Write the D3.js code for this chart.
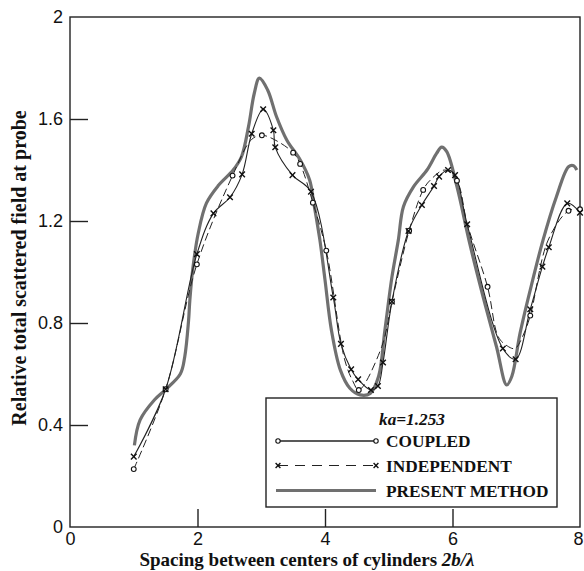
<!DOCTYPE html>
<html><head><meta charset="utf-8">
<script src="https://cdn.jsdelivr.net/npm/d3@7"></script>
<style>body{margin:0;background:#fff}svg{display:block}</style>
</head><body>
<script>
// ---- data ----
const xTicks = [0, 2, 4, 6, 8];
const yTicks = [0, 0.4, 0.8, 1.2, 1.6, 2];
const xLabel = "Spacing between centers of cylinders ";
const xLabelItalic = "2b/λ";
const yLabel = "Relative total scattered field at probe";
const legendTitle = "ka=1.253";
const seriesNames = ["COUPLED", "INDEPENDENT", "PRESENT METHOD"];

// COUPLED (circle markers); mark = 1 where a circle is drawn
const coupledX = [1.0, 1.5, 1.99, 2.55, 2.85, 3.01, 3.2, 3.5, 3.61, 3.81, 4.02, 4.31, 4.44, 4.53, 4.89, 5.05, 5.32, 5.54, 5.65, 5.88, 6.07, 6.23, 6.55, 6.72, 6.86, 6.98, 7.11, 7.22, 7.5, 7.82, 8.0];
const coupledY = [0.227, 0.54, 1.03, 1.378, 1.52, 1.536, 1.52, 1.468, 1.424, 1.272, 1.084, 0.655, 0.57, 0.537, 0.707, 0.884, 1.162, 1.322, 1.36, 1.40, 1.358, 1.19, 0.942, 0.745, 0.71, 0.70, 0.753, 0.829, 1.125, 1.24, 1.246];
const coupledMark = [1, 1, 1, 1, 0, 1, 0, 1, 1, 1, 1, 0, 0, 1, 0, 1, 1, 1, 0, 0, 1, 0, 1, 0, 0, 0, 0, 1, 0, 1, 1];

// INDEPENDENT (x markers)
const indepX = [1.0, 1.5, 1.99, 2.25, 2.51, 2.70, 2.85, 3.03, 3.19, 3.22, 3.49, 3.78, 4.13, 4.25, 4.41, 4.52, 4.72, 4.83, 4.91, 5.05, 5.31, 5.52, 5.71, 5.79, 5.93, 6.04, 6.23, 6.79, 6.99, 7.22, 7.41, 7.51, 7.80, 8.0];
const indepY = [0.276, 0.54, 1.07, 1.23, 1.293, 1.383, 1.542, 1.638, 1.556, 1.489, 1.38, 1.315, 0.90, 0.718, 0.618, 0.579, 0.537, 0.553, 0.645, 0.884, 1.161, 1.263, 1.337, 1.374, 1.40, 1.38, 1.187, 0.70, 0.658, 0.854, 1.021, 1.097, 1.269, 1.233];

// PRESENT METHOD (thick grey line)
const presentX = [1.01, 1.10, 1.33, 1.49, 1.73, 1.80, 1.86, 1.88, 1.93, 2.01, 2.14, 2.33, 2.56, 2.69, 2.80, 2.89, 2.97, 3.10, 3.24, 3.40, 3.61, 3.76, 3.82, 3.92, 4.00, 4.10, 4.24, 4.39, 4.55, 4.71, 4.84, 4.94, 5.05, 5.15, 5.23, 5.39, 5.60, 5.75, 5.83, 5.91, 6.07, 6.27, 6.48, 6.69, 6.85, 6.93, 7.06, 7.22, 7.42, 7.63, 7.82, 7.90, 7.95];
const presentY = [0.32, 0.42, 0.50, 0.537, 0.60, 0.668, 0.81, 0.89, 1.02, 1.15, 1.27, 1.34, 1.40, 1.452, 1.57, 1.70, 1.76, 1.714, 1.609, 1.518, 1.44, 1.36, 1.276, 1.125, 0.969, 0.773, 0.616, 0.544, 0.518, 0.524, 0.59, 0.773, 0.98, 1.125, 1.256, 1.335, 1.40, 1.465, 1.49, 1.472, 1.335, 1.112, 0.903, 0.707, 0.557, 0.59, 0.76, 0.93, 1.125, 1.295, 1.413, 1.417, 1.40];

// ---- chart ----
const W = 584, H = 571;
const m = {left: 70, right: 4, top: 17, bottom: 44};
const svg = d3.select("body").append("svg").attr("width", W).attr("height", H);
const x = d3.scaleLinear().domain([0, 8]).range([m.left, W - m.right]);
const y = d3.scaleLinear().domain([0, 2]).range([H - m.bottom, m.top]);

const clipId = "plotclip";
svg.append("clipPath").attr("id", clipId).append("rect")
  .attr("x", x(0)).attr("y", y(2)).attr("width", x(8) - x(0) + 6).attr("height", y(0) - y(2));

// frame
svg.append("rect").attr("x", x(0)).attr("y", y(2)).attr("width", x(8) - x(0)).attr("height", y(0) - y(2))
  .attr("fill", "none").attr("stroke", "#222").attr("stroke-width", 1.4);

// axes (ticks pointing inward)
const yAxis = d3.axisLeft(y).tickValues(yTicks).tickSize(0).tickPadding(7).tickFormat(d3.format("~g"));
const gy = svg.append("g").attr("transform", `translate(${x(0)},0)`).call(yAxis);
gy.select(".domain").remove();
gy.selectAll("text").attr("font-family", "Liberation Sans, Arial, sans-serif").attr("font-size", 18).attr("fill", "#111");
gy.selectAll(".tick").filter(d => d > 0 && d < 2).append("line")
  .attr("x1", 0).attr("x2", 18).attr("stroke", "#222").attr("stroke-width", 1.4);

const xAxis = d3.axisBottom(x).tickValues(xTicks).tickSize(0).tickPadding(5).tickFormat(d3.format("~g"));
const gx = svg.append("g").attr("transform", `translate(0,${y(0)})`).call(xAxis);
gx.select(".domain").remove();
gx.selectAll("text").attr("font-family", "Liberation Sans, Arial, sans-serif").attr("font-size", 18).attr("fill", "#111");
gx.selectAll(".tick").filter(d => d === 8).select("text").attr("text-anchor", "end").attr("x", W - 1 - x(8));
gx.selectAll(".tick").filter(d => d > 0 && d < 8).append("line")
  .attr("y1", 0).attr("y2", -18).attr("stroke", "#222").attr("stroke-width", 1.4);

// axis titles
svg.append("text").attr("transform", `translate(26,268) rotate(-90)`)
  .attr("text-anchor", "middle").attr("font-family", "Liberation Serif, Times New Roman, serif")
  .attr("font-weight", "bold").attr("font-size", 20).attr("fill", "#111").text(yLabel);
const xt = svg.append("text").attr("x", 307).attr("y", 566).attr("text-anchor", "middle")
  .attr("font-family", "Liberation Serif, Times New Roman, serif").attr("font-weight", "bold")
  .attr("font-size", 19).attr("fill", "#111");
xt.append("tspan").text(xLabel);
xt.append("tspan").attr("font-style", "italic").text(xLabelItalic);

// lines
const line = d3.line().x(d => x(d[0])).y(d => y(d[1])).curve(d3.curveCatmullRom.alpha(0.5));
const plot = svg.append("g").attr("clip-path", `url(#${clipId})`);
const presentPts = presentX.map((v, i) => [v, presentY[i]]);
const coupledPts = coupledX.map((v, i) => [v, coupledY[i]]);
const indepPts = indepX.map((v, i) => [v, indepY[i]]);

plot.append("path").datum(presentPts).attr("d", line).attr("fill", "none")
  .attr("stroke", "#707070").attr("stroke-width", 3.2).attr("stroke-linejoin", "round");
plot.append("path").datum(coupledPts).attr("d", line).attr("fill", "none")
  .attr("stroke", "#222").attr("stroke-width", 1).attr("stroke-dasharray", "8,4");
plot.append("path").datum(indepPts).attr("d", line).attr("fill", "none")
  .attr("stroke", "#222").attr("stroke-width", 1.1);

// markers
function xMark(g, cx, cy, s) {
  g.append("path").attr("d", `M${cx - s},${cy - s}L${cx + s},${cy + s}M${cx - s},${cy + s}L${cx + s},${cy - s}`)
    .attr("stroke", "#111").attr("stroke-width", 1.4).attr("fill", "none");
}
function oMark(g, cx, cy, r) {
  g.append("circle").attr("cx", cx).attr("cy", cy).attr("r", r)
    .attr("fill", "#fff").attr("stroke", "#111").attr("stroke-width", 1.1);
}
coupledPts.forEach((p, i) => { if (coupledMark[i]) oMark(plot, x(p[0]), y(p[1]), 2.4); });
indepPts.forEach(p => xMark(plot, x(p[0]), y(p[1]), 2.8));

// legend
const lg = svg.append("g");
lg.append("rect").attr("x", 266).attr("y", 398).attr("width", 291).attr("height", 109)
  .attr("fill", "#fff").attr("stroke", "#222").attr("stroke-width", 1.4);
lg.append("text").attr("x", 412).attr("y", 425).attr("text-anchor", "middle")
  .attr("font-family", "Liberation Serif, Times New Roman, serif").attr("font-weight", "bold")
  .attr("font-style", "italic").attr("font-size", 17.3).attr("fill", "#111").text(legendTitle);
const rows = [441, 465.5, 490.5];
const lx1 = 278, lx2 = 376;
// coupled row
lg.append("line").attr("x1", lx1).attr("x2", lx2).attr("y1", rows[0]).attr("y2", rows[0]).attr("stroke", "#222").attr("stroke-width", 1.4);
oMark(lg, lx1, rows[0], 2.2); oMark(lg, lx2, rows[0], 2.2);
// independent row
lg.append("line").attr("x1", lx1).attr("x2", lx2).attr("y1", rows[1]).attr("y2", rows[1]).attr("stroke", "#222").attr("stroke-width", 1.2).attr("stroke-dasharray", "10,7");
xMark(lg, lx1, rows[1], 2.4); xMark(lg, lx2, rows[1], 2.4);
// present row
lg.append("line").attr("x1", lx1 - 2).attr("x2", lx2).attr("y1", rows[2]).attr("y2", rows[2]).attr("stroke", "#707070").attr("stroke-width", 3.2);
seriesNames.forEach((n, i) => {
  lg.append("text").attr("x", 386).attr("y", rows[i] + 6).attr("font-family", "Liberation Serif, Times New Roman, serif")
    .attr("font-weight", "bold").attr("font-size", 17.3).attr("fill", "#111").text(n);
});
</script>
</body></html>
